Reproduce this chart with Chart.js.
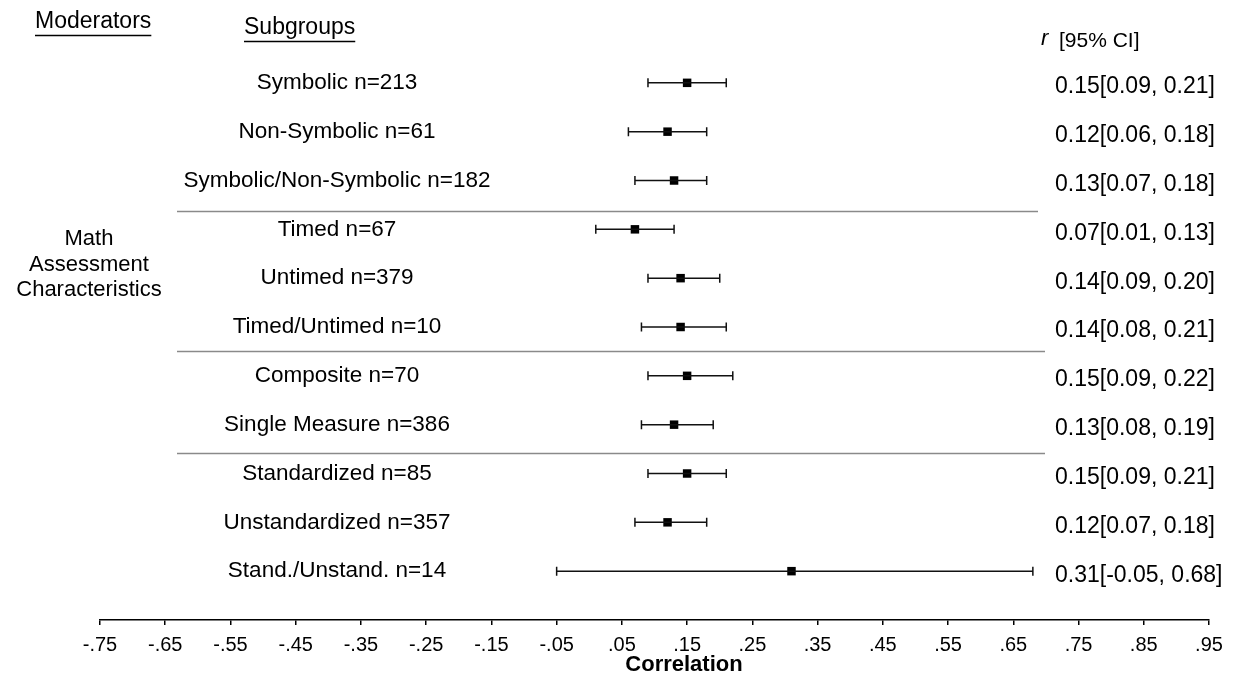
<!DOCTYPE html>
<html>
<head>
<meta charset="utf-8">
<script src="https://cdn.jsdelivr.net/npm/chart.js@4/dist/chart.umd.min.js"></script>
<style>
  html, body { margin: 0; padding: 0; background: #fff; }
  canvas { display: block; }
</style>
</head>
<body>
<canvas id="forest" width="1238" height="679"></canvas>
<script>
// ---- data ----
const subgroups = [
  'Symbolic', 'Non-Symbolic', 'Symbolic/Non-Symbolic',
  'Timed', 'Untimed', 'Timed/Untimed',
  'Composite', 'Single Measure',
  'Standardized', 'Unstandardized', 'Stand./Unstand.'
];
const nCounts = [213, 61, 182, 67, 379, 10, 70, 386, 85, 357, 14];
const rValues = [0.15, 0.12, 0.13, 0.07, 0.14, 0.14, 0.15, 0.13, 0.15, 0.12, 0.31];
const ciLow   = [0.09, 0.06, 0.07, 0.01, 0.09, 0.08, 0.09, 0.08, 0.09, 0.07, -0.05];
const ciHigh  = [0.21, 0.18, 0.18, 0.13, 0.20, 0.21, 0.22, 0.19, 0.21, 0.18, 0.68];
const tickValues = [-0.75, -0.65, -0.55, -0.45, -0.35, -0.25, -0.15, -0.05,
                    0.05, 0.15, 0.25, 0.35, 0.45, 0.55, 0.65, 0.75, 0.85, 0.95];
const tickLabels = ['-.75', '-.65', '-.55', '-.45', '-.35', '-.25', '-.15', '-.05',
                    '.05', '.15', '.25', '.35', '.45', '.55', '.65', '.75', '.85', '.95'];
const moderatorLabel = ['Math', 'Assessment', 'Characteristics'];
// group separators sit between rows 3|4, 6|7, 8|9
const separatorRows = [3.63, 6.5, 8.57];

const FONT = '"Liberation Sans", Arial, sans-serif';

// row index 1..n on the y axis
const points = rValues.map((r, i) => ({ x: r, y: i + 1 }));

// error bars + all the text columns
const forestPlugin = {
  id: 'forest',
  afterDatasetsDraw(chart) {
    const { ctx } = chart;
    const xs = chart.scales.x;
    const ys = chart.scales.y;
    ctx.save();

    // separators
    ctx.strokeStyle = '#8a8a8a';
    ctx.lineWidth = 1.5;
    separatorRows.forEach((row, i) => {
      const y = Math.round(ys.getPixelForValue(row)) + 0.5;
      ctx.beginPath();
      ctx.moveTo(177, y);
      ctx.lineTo(i === 0 ? 1038 : 1045, y);
      ctx.stroke();
    });

    // confidence intervals
    ctx.strokeStyle = '#111';
    ctx.lineWidth = 1.5;
    rValues.forEach((r, i) => {
      const y = ys.getPixelForValue(i + 1);
      const x0 = xs.getPixelForValue(ciLow[i]);
      const x1 = xs.getPixelForValue(ciHigh[i]);
      ctx.beginPath();
      ctx.moveTo(x0, y); ctx.lineTo(x1, y);
      ctx.moveTo(x0, y - 4.5); ctx.lineTo(x0, y + 4.5);
      ctx.moveTo(x1, y - 4.5); ctx.lineTo(x1, y + 4.5);
      ctx.stroke();
    });
    ctx.restore();
  },
  afterDraw(chart) {
    const { ctx } = chart;
    const ys = chart.scales.y;
    ctx.save();
    ctx.fillStyle = '#000';
    ctx.textBaseline = 'middle';

    // headers
    ctx.font = `23px ${FONT}`;
    ctx.textAlign = 'left';
    ctx.fillText('Moderators', 35, 22);
    ctx.fillText('Subgroups', 244, 28);
    ctx.lineWidth = 1.5;
    ctx.strokeStyle = '#000';
    ctx.beginPath();
    ctx.moveTo(35, 35.5); ctx.lineTo(35 + ctx.measureText('Moderators').width, 35.5);
    ctx.moveTo(244, 41.5); ctx.lineTo(244 + ctx.measureText('Subgroups').width, 41.5);
    ctx.stroke();

    ctx.font = `italic 22px ${FONT}`;
    ctx.fillText('r', 1041, 39);
    ctx.font = `21px ${FONT}`;
    ctx.fillText('[95% CI]', 1059, 41);

    // moderator
    ctx.font = `22px ${FONT}`;
    ctx.textAlign = 'center';
    moderatorLabel.forEach((t, i) => ctx.fillText(t, 89, 239 + i * 25.5));

    // subgroup labels and r [CI] column
    subgroups.forEach((name, i) => {
      const y = ys.getPixelForValue(i + 1);
      ctx.font = `22.5px ${FONT}`;
      ctx.textAlign = 'center';
      ctx.fillText(`${name} n=${nCounts[i]}`, 337, y);
      ctx.font = `23px ${FONT}`;
      ctx.textAlign = 'left';
      ctx.fillText(`${rValues[i].toFixed(2)}[${ciLow[i].toFixed(2)}, ${ciHigh[i].toFixed(2)}]`, 1055, y + 4);
    });

    // axis title
    ctx.font = `bold 22px ${FONT}`;
    ctx.textAlign = 'center';
    ctx.fillText('Correlation', 684, 665);
    ctx.restore();
  }
};

new Chart(document.getElementById('forest'), {
  type: 'scatter',
  data: {
    datasets: [{
      data: points,
      pointStyle: 'rect',
      pointRadius: 6,
      pointHoverRadius: 6,
      backgroundColor: '#000',
      borderColor: '#000',
      borderWidth: 0,
    }],
  },
  options: {
    responsive: false,
    animation: false,
    events: [],
    layout: { padding: { left: 100, right: 29, top: 34, bottom: 0 } },
    plugins: {
      legend: { display: false },
      tooltip: { enabled: false },
    },
    scales: {
      x: {
        type: 'linear',
        min: -0.75,
        max: 0.95,
        afterBuildTicks(scale) {
          scale.ticks = tickValues.map(v => ({ value: v }));
        },
        afterFit(scale) { scale.height = 59; },
        border: { display: true, color: '#000', width: 1.5 },
        grid: { display: true, drawOnChartArea: false, drawTicks: true, tickLength: 5, color: '#000', lineWidth: 1.5 },
        ticks: {
          color: '#000',
          font: { family: FONT, size: 20 },
          padding: 8,
          maxRotation: 0,
          autoSkip: false,
          callback: (v, i) => tickLabels[i],
        },
      },
      y: {
        type: 'linear',
        display: false,
        reverse: true,
        min: 0,
        max: 12,
      },
    },
  },
  plugins: [forestPlugin],
});
</script>
</body>
</html>
